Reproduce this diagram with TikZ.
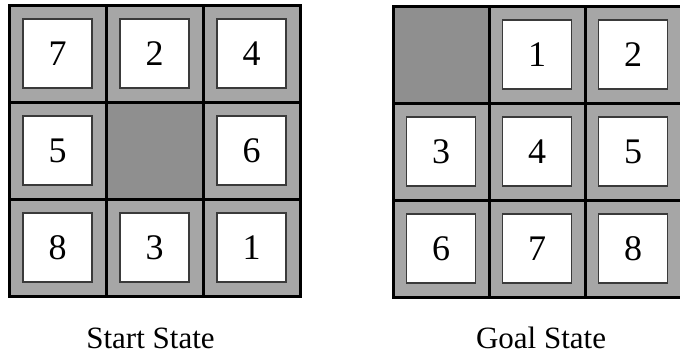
\documentclass[tikz,border=0pt]{standalone}
\usepackage{fontspec}
\setmainfont{Liberation Serif}
\definecolor{cellgray}{HTML}{A6A6A6}
\definecolor{blankgray}{HTML}{8F8F8F}
\definecolor{tileedge}{HTML}{3A3A3A}
\begin{document}
\begin{tikzpicture}[x=1pt,y=-1pt,
  cellbox/.style={draw=black, line width=3pt, fill=cellgray, minimum width=97pt, minimum height=97pt, inner sep=0pt, outer sep=0pt},
  blankbox/.style={cellbox, fill=blankgray},
  tilebox/.style={draw=tileedge, line width=1.3pt, fill=white, minimum size=69pt, inner sep=0pt, font=\fontsize{36}{36}\selectfont},
  lbl/.style={anchor=base, inner sep=0pt, font=\fontsize{31}{31}\selectfont}
]
\useasboundingbox (0,0) rectangle (680,354);
% Start state
\foreach \r/\c/\n in {1/1/7,1/2/2,1/3/4,2/1/5,2/3/6,3/1/8,3/2/3,3/3/1}{
  \node[cellbox] (S\r\c) at ({9+97*(\c-0.5)},{5+97*(\r-0.5)}) {};
  \node[tilebox] (ST\r\c) at (S\r\c) {\n};
}
\node[blankbox] (S22) at ({9+97*1.5},{5+97*1.5}) {};
% Goal state
\foreach \r/\c/\n in {1/2/1,1/3/2,2/1/3,2/2/4,2/3/5,3/1/6,3/2/7,3/3/8}{
  \node[cellbox, minimum width=96pt] (G\r\c) at ({393+96*(\c-0.5)},{6+97*(\r-0.5)}) {};
  \node[tilebox] (GT\r\c) at (G\r\c) {\n};
}
\node[blankbox, minimum width=96pt] (G11) at ({393+96*0.5},{6+97*0.5}) {};
% Labels
\node[lbl] (startlbl) at (150.5,348) {Start State};
\node[lbl] (goallbl) at (541,348) {Goal State};
\end{tikzpicture}
\end{document}
